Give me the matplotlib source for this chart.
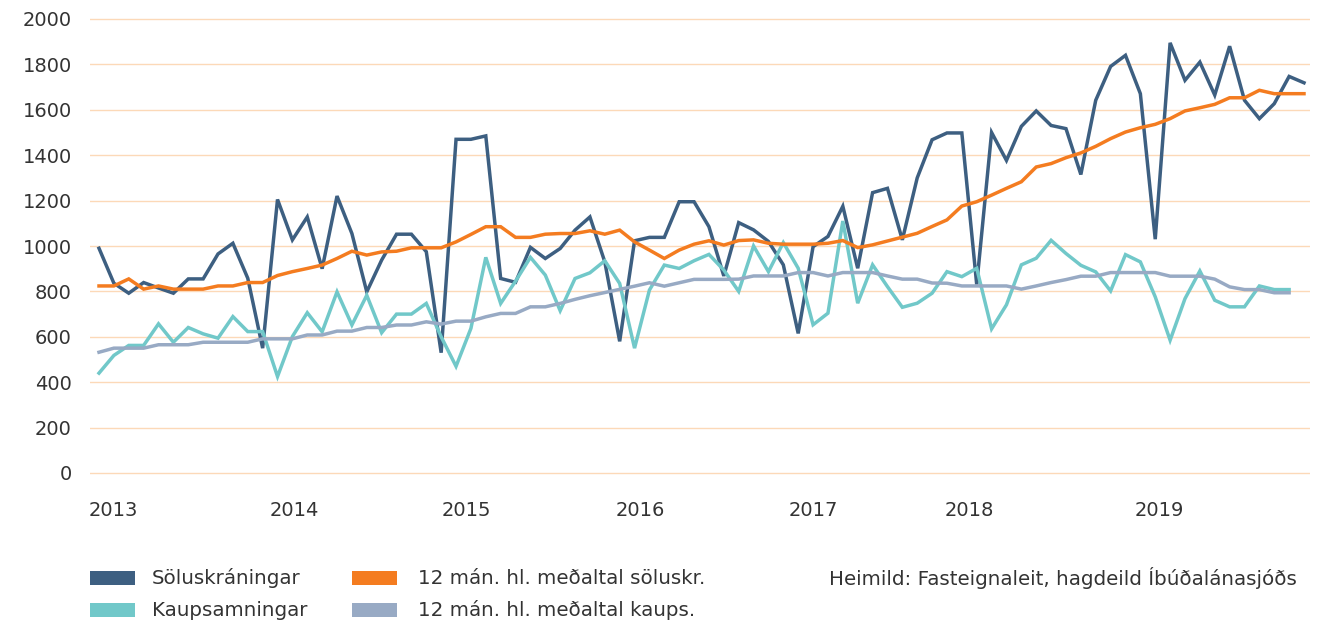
import matplotlib
matplotlib.use("Agg")
import matplotlib.pyplot as plt
from matplotlib.patches import Rectangle

# Monthly data, Jan 2013 onwards
soluskraningar = [990, 836, 792, 839, 815, 792, 855, 855, 965, 1012,
                  858, 550, 1205, 1027, 1128, 900, 1220, 1055, 798, 938,
                  1052, 1052, 975, 530, 1470, 1470, 1485, 857, 840, 994,
                  945, 989, 1070, 1128, 930, 580, 1023, 1038, 1038, 1195,
                  1195, 1085, 868, 1103, 1071, 1020, 917, 615, 997, 1042,
                  1175, 902, 1235, 1254, 1027, 1300, 1468, 1498, 1498, 830,
                  1500, 1377, 1527, 1595, 1531, 1517, 1315, 1642, 1791, 1840,
                  1671, 1030, 1895, 1730, 1810, 1665, 1880, 1642, 1561, 1627,
                  1747, 1719]
kaupsamningar = [440, 518, 562, 562, 657, 576, 641, 613, 594, 689,
                 623, 623, 425, 601, 706, 622, 798, 652, 783, 618,
                 700, 700, 747, 600, 470, 637, 950, 747, 845, 950,
                 872, 715, 857, 882, 935, 835, 550, 806, 916, 901,
                 935, 963, 894, 800, 1000, 887, 1015, 902, 653, 704,
                 1110, 748, 917, 821, 730, 748, 792, 887, 865, 902,
                 635, 741, 917, 946, 1025, 967, 915, 886, 802, 962,
                 930, 776, 585, 768, 890, 761, 732, 732, 824, 808, 808]
medaltal_soluskr = [824, 824, 855, 810, 824, 810, 810, 810, 824, 824,
                    839, 839, 870, 887, 901, 916, 945, 977, 960, 974,
                    977, 992, 992, 992, 1018, 1051, 1085, 1085, 1038, 1038,
                    1052, 1055, 1055, 1067, 1052, 1070, 1018, 982, 945, 982,
                    1008, 1023, 1004, 1024, 1027, 1012, 1008, 1008, 1008, 1012,
                    1024, 993, 1005, 1022, 1039, 1056, 1086, 1115, 1176, 1195,
                    1224, 1254, 1283, 1348, 1363, 1389, 1410, 1439, 1473, 1502,
                    1521, 1536, 1561, 1595, 1609, 1624, 1653, 1653, 1686, 1671,
                    1671, 1671]
medaltal_kaups = [532, 550, 550, 550, 565, 565, 565, 576, 576, 576,
                  576, 591, 591, 591, 608, 608, 625, 625, 641, 641,
                  652, 652, 666, 656, 669, 669, 688, 703, 703, 732,
                  732, 747, 765, 781, 795, 809, 823, 838, 823, 838,
                  853, 853, 853, 854, 868, 868, 868, 883, 883, 868,
                  883, 883, 883, 868, 854, 854, 837, 836, 824, 824,
                  824, 824, 810, 824, 839, 852, 867, 867, 883, 883,
                  883, 883, 867, 867, 867, 854, 820, 808, 808, 794, 794]

year_labels = ["2013", "2014", "2015", "2016", "2017", "2018", "2019"]
year_label_pos = [0.94, 13.1, 24.7, 36.4, 48.0, 58.5, 71.3]

series_names = ["Söluskráningar", "Kaupsamningar",
                "12 mán. hl. meðaltal söluskr.", "12 mán. hl. meðaltal kaups."]
colors = ["#3d5f81", "#71c8c9", "#f47c20", "#98aac4"]
source_text = "Heimild: Fasteignaleit, hagdeild Íbúðalánasjóðs"

plt.rcParams['font.family'] = ['DejaVu Sans']

W, H = 1327, 624
pad_u = 20  # small y margin so edge gridlines are not clipped
ppu = 454 / 2000
top_px = 19 - pad_u * ppu
bot_px = 473 + pad_u * ppu
fig = plt.figure(figsize=(W / 100, H / 100), dpi=100)
ax = fig.add_axes([90 / W, 1 - bot_px / H, 1220 / W, (bot_px - top_px) / H])

all_series = [soluskraningar, kaupsamningar, medaltal_soluskr, medaltal_kaups]
for vals, c, name in zip(all_series, colors, series_names):
    ax.plot(range(len(vals)), vals, color=c, lw=2.5, label=name,
            solid_joinstyle='miter', zorder=3)

ax.set_ylim(-pad_u, 2000 + pad_u)
ax.set_xlim(-9 / 14.88, 81 + 6 / 14.88)
ax.set_yticks(range(0, 2001, 200))
ax.set_xticks(year_label_pos)
ax.set_xticklabels(year_labels)
ax.grid(axis='y', color='#fcd9b8', lw=1.0, zorder=0)
ax.set_axisbelow(True)
for s in ax.spines.values():
    s.set_visible(False)
ax.tick_params(axis='y', length=0, pad=13, labelsize=14, labelcolor='#333333')
ax.tick_params(axis='x', length=0, pad=17, labelsize=14, labelcolor='#333333')

# Legend (manual, in figure pixel coordinates)
def fx(px):
    return px / W

def fy(py):
    return 1 - py / H

legend_items = [(90, 578, 0), (90, 610, 1), (352, 578, 2), (352, 610, 3)]
for px, py, k in legend_items:
    fig.add_artist(Rectangle((fx(px), fy(py + 7)), 45 / W, 14 / H,
                             transform=fig.transFigure, color=colors[k], lw=0))
    fig.text(fx(px + 62 if k < 2 else px + 66), fy(py), series_names[k],
             fontsize=14.3, color='#333333', va='center', ha='left')

fig.text(fx(1297), fy(578), source_text, fontsize=14.3, color='#333333',
         va='center', ha='right')

fig.savefig("out.png", dpi=100)
